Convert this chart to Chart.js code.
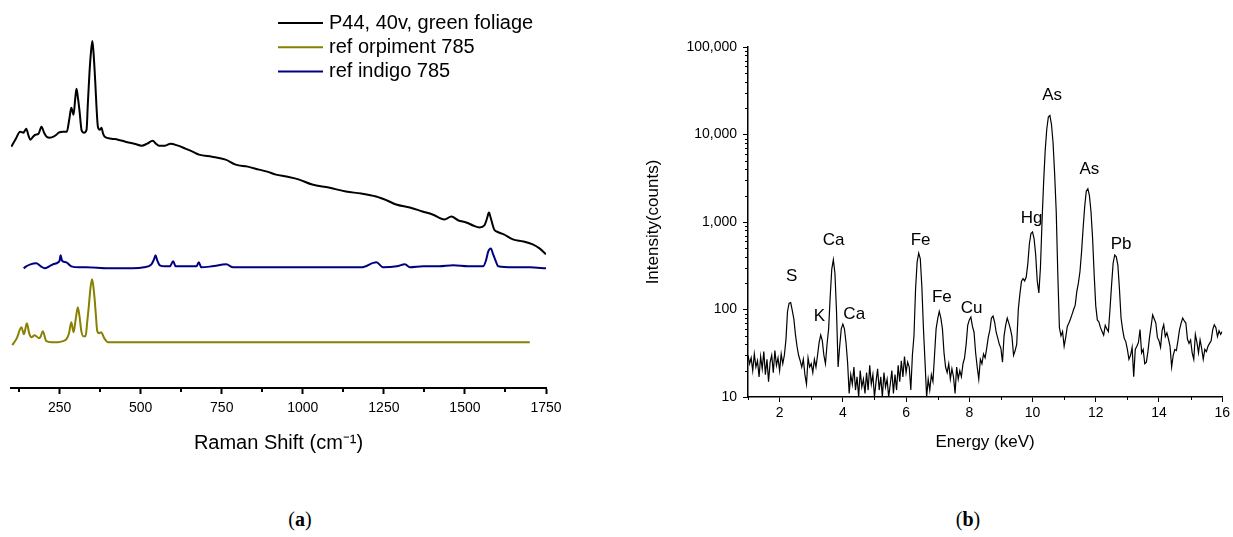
<!DOCTYPE html>
<html>
<head>
<meta charset="utf-8">
<script src="https://cdn.jsdelivr.net/npm/chart.js@4.4.0/dist/chart.umd.min.js"></script>
<style>
  html, body { margin: 0; padding: 0; background: #fff; }
  #wrap { position: relative; width: 1233px; height: 537px; overflow: hidden; }
  #ramanChart { position: absolute; left: 0; top: 0; }
  #xrfChart { position: absolute; left: 620px; top: 0; }
  .cap { position: absolute; width: 60px; text-align: center; top: 508px;
         font-family: 'Liberation Serif', 'DejaVu Serif', serif; font-size: 20px; color: #000; }
</style>
</head>
<body>
<div id="wrap">
  <canvas id="ramanChart" width="600" height="480"></canvas>
  <canvas id="xrfChart" width="613" height="480"></canvas>
  <div class="cap" style="left: 270px">(<b>a</b>)</div>
  <div class="cap" style="left: 938px">(<b>b</b>)</div>
</div>
<script>
// (a) Raman spectra, intensity in arbitrary units (stacked offsets)
const sampleShift = [101,115,128,138,147,154,160,168,175,185,
  194,202,210,220,231,240,247,260,272,280,
  286,293,298,302,306,311,318,325,333,337,
  342,347,351,355,360,364,368,374,379,384,
  389,410,430,453,480,503,520,537,547,556,
  575,592,615,638,660,680,720,762,793,830,
  865,890,917,950,989,1029,1080,1133,1180,1226,
  1260,1288,1330,1369,1400,1437,1458,1480,1504,1525,
  1545,1560,1568,1574,1580,1590,1597,1620,1648,1680,
  1709,1730,1750];
const sampleIntensity = [242,250,257,256,260,253,249,252,254,255,
  262,256,252,251,252,254,256,257,257,270,
  281,274,290,300,292,279,258,256,259,285,
  316,338,348,334,306,280,262,259,261,255,
  252,250,249,247,245,243,245,248,245,243,
  243,245,243,240,237,234,232,229,224,222,
  219,217,214,212,209,204,201,197,195,192,
  188,184,181,177,174,169,172,168,166,163,
  161,163,170,176,170,159,157,154,149,147,
  144,140,134];

const orpimentShift = [104,118,132,140,149,156,163,173,186,192,
  198,209,225,245,260,271,279,286,293,300,
  306,312,317,323,330,335,340,345,350,354,
  358,362,366,372,378,386,392,399,450,600,
  800,1000,1200,1400,1600,1700];
const orpimentIntensity = [43,50,61,54,65,55,51,53,50,52,
  57,47,46,46,47,49,55,66,56,70,
  81,70,57,52,52,66,82,100,109,102,
  89,72,57,55,56,51,48,46,46,46,
  46,46,46,46,46,46];

const indigoShift = [139,147,160,178,192,204,218,229,245,250,
  253,257,260,271,286,310,332,400,475,510,
  533,541,546,551,559,575,590,600,608,640,
  672,679,687,720,764,785,850,920,991,1100,
  1180,1227,1248,1290,1315,1330,1371,1420,1464,1510,
  1556,1565,1572,1580,1587,1593,1603,1649,1700,1750];
const indigoIntensity = [120,122,124,125,122,120,122,124,126,128,
  133,128,127,126,122,121,121,120,120,121,
  124,129,133,128,123,122,122,127,122,122,
  122,126,121,122,124,121,121,121,121,121,
  121,126,121,122,124,121,122,122,123,122,
  122,128,137,140,134,129,122,121,121,120];

const ramanTicks = [250, 500, 750, 1000, 1250, 1500, 1750];
const ramanMinorTicks = [125, 375, 625, 875, 1125, 1375, 1625];

// (b) XRF spectrum
const edxEnergy = [
  1,1.05,1.1,1.15,1.2,1.25,1.3,1.35,1.4,1.45,1.5,1.55,1.6,1.65,1.7,1.75,1.8,1.85,1.9,1.95,
  2,2.05,2.1,2.15,2.2,2.25,2.3,2.35,2.4,2.45,2.5,2.55,2.6,2.65,2.7,2.75,2.8,2.85,2.9,2.95,
  3,3.05,3.1,3.15,3.2,3.25,3.3,3.35,3.4,3.45,3.5,3.55,3.6,3.65,3.7,3.75,3.8,3.85,3.9,3.95,
  4,4.05,4.1,4.15,4.2,4.25,4.3,4.35,4.4,4.45,4.5,4.55,4.6,4.65,4.7,4.75,4.8,4.85,4.9,4.95,
  5,5.05,5.1,5.15,5.2,5.25,5.3,5.35,5.4,5.45,5.5,5.55,5.6,5.65,5.7,5.75,5.8,5.85,5.9,5.95,
  6,6.05,6.1,6.15,6.2,6.25,6.3,6.35,6.4,6.45,6.5,6.55,6.6,6.65,6.7,6.75,6.8,6.85,6.9,6.95,
  7,7.05,7.1,7.15,7.2,7.25,7.3,7.35,7.4,7.45,7.5,7.55,7.6,7.65,7.7,7.75,7.8,7.85,7.9,7.95,
  8,8.05,8.1,8.15,8.2,8.25,8.3,8.35,8.4,8.45,8.5,8.55,8.6,8.65,8.7,8.75,8.8,8.85,8.9,8.95,
  9,9.05,9.1,9.15,9.2,9.25,9.3,9.35,9.4,9.45,9.5,9.55,9.6,9.65,9.7,9.75,9.8,9.85,9.9,9.95,
  10,10.05,10.1,10.15,10.2,10.25,10.3,10.35,10.4,10.45,10.5,10.55,10.6,10.65,10.7,10.75,10.8,10.85,10.9,10.95,
  11,11.05,11.1,11.15,11.2,11.25,11.3,11.35,11.4,11.45,11.5,11.55,11.6,11.65,11.7,11.75,11.8,11.85,11.9,11.95,
  12,12.05,12.1,12.15,12.2,12.25,12.3,12.35,12.4,12.45,12.5,12.55,12.6,12.65,12.7,12.75,12.8,12.85,12.9,12.95,
  13,13.05,13.1,13.15,13.2,13.25,13.3,13.35,13.4,13.45,13.5,13.55,13.6,13.65,13.7,13.75,13.8,13.85,13.9,13.95,
  14,14.05,14.1,14.15,14.2,14.25,14.3,14.35,14.4,14.45,14.5,14.55,14.6,14.65,14.7,14.75,14.8,14.85,14.9,14.95,
  15,15.05,15.1,15.15,15.2,15.25,15.3,15.35,15.4,15.45,15.5,15.55,15.6,15.65,15.7,15.75,15.8,15.85,15.9,15.95,
  16];
const edxCounts = [
  30,24,28,20,31,22,26,17,29,21,33,18,27,15,25,30,19,34,23,28,
  20,31,24,30,45,95,118,120,98,78,52,38,30,26,22,27,18,14,28,22,
  24,19,27,22,30,42,51,44,30,24,40,60,140,290,370,260,95,22,38,60,
  68,60,42,25,11,18,14,22,12,17,10,20,13,16,11,19,12,23,14,18,
  10,15,21,12,17,10,19,13,16,10,14,20,11,18,12,23,15,26,17,29,
  19,25,22,12,30,50,170,350,440,380,180,60,25,10,16,12,18,15,30,60,
  78,95,80,60,32,22,19,24,16,21,17,11,22,16,20,17,24,28,40,66,
  76,82,64,55,32,22,16,27,24,31,28,36,48,58,80,84,72,55,47,40,
  36,25,50,66,80,70,60,49,30,34,40,100,150,210,225,212,235,330,560,740,
  770,640,420,210,155,300,1000,2800,6500,11500,15800,16500,13000,8000,3500,1300,250,62,50,56,
  38,48,64,70,78,88,100,112,160,200,270,450,850,1500,2250,2400,2000,1300,650,250,
  110,76,72,62,56,51,66,60,56,100,190,340,420,400,320,170,80,59,47,43,
  35,27,30,37,17,35,38,42,59,32,35,24,25,33,48,64,87,78,70,48,
  44,37,58,67,49,54,46,38,22,30,35,34,44,59,70,80,74,70,46,41,
  45,32,27,52,42,32,45,36,27,35,33,38,41,44,59,67,62,49,57,52,
  56];

const peakNames = ['S', 'K', 'Ca', 'Ca', 'Fe', 'Fe', 'Cu', 'Hg', 'As', 'As', 'Pb'];
const peakEnergy = [2.38, 3.26, 3.71, 4.36, 6.46, 7.13, 8.07, 9.97, 10.62, 11.8, 12.8];
const peakCounts = [238, 83, 624, 87, 624, 138, 104, 1100, 28100, 3990, 557];

const energyTicks = [2, 4, 6, 8, 10, 12, 14, 16];
const energyMinorTicks = [1, 3, 5, 7, 9, 11, 13, 15];
const countTicks = [10, 100, 1000, 10000, 100000];

const countMinorTicks = [];
for (let d = 10; d < 100000; d *= 10) {
  for (let m = 2; m <= 9; m++) countMinorTicks.push(m * d);
}

const toPoints = (xs, ys) => xs.map((x, i) => ({ x: x, y: ys[i] }));

// 小さい目盛り
const minorTicks = {
  id: 'minorTicks',
  afterDraw(chart, args, opts) {
    const ctx = chart.ctx;
    ctx.save();
    ctx.strokeStyle = '#000';
    ctx.lineWidth = opts.width;
    opts.marks.forEach(m => {
      const scale = chart.scales[m.axis];
      m.values.forEach(v => {
        const p = Math.round(scale.getPixelForValue(v)) + (opts.width % 2 ? 0.5 : 0);
        ctx.beginPath();
        if (m.axis === 'x') {
          ctx.moveTo(p, scale.top);
          ctx.lineTo(p, scale.top + m.length);
        } else {
          ctx.moveTo(scale.right, p);
          ctx.lineTo(scale.right - m.length, p);
        }
        ctx.stroke();
      });
    });
    ctx.restore();
  }
};

// 凡例 (グラフ内)
const insideLegend = {
  id: 'insideLegend',
  afterDraw(chart, args, opts) {
    const ctx = chart.ctx;
    ctx.save();
    ctx.font = opts.font;
    ctx.textBaseline = 'middle';
    chart.data.datasets.forEach((ds, i) => {
      const y = opts.top + i * opts.rowHeight;
      ctx.strokeStyle = ds.borderColor;
      ctx.lineWidth = 2;
      ctx.beginPath();
      ctx.moveTo(opts.left, y);
      ctx.lineTo(opts.left + opts.lineLength, y);
      ctx.stroke();
      ctx.fillStyle = '#000';
      ctx.fillText(ds.label, opts.left + opts.lineLength + opts.gap, y);
    });
    ctx.restore();
  }
};

// ピークのラベル
const peakLabels = {
  id: 'peakLabels',
  afterDatasetsDraw(chart, args, opts) {
    const { ctx, scales: { x, y } } = chart;
    ctx.save();
    ctx.font = opts.font;
    ctx.fillStyle = '#000';
    ctx.textAlign = 'center';
    ctx.textBaseline = 'middle';
    peakNames.forEach((name, i) => {
      ctx.fillText(name, x.getPixelForValue(peakEnergy[i]), y.getPixelForValue(peakCounts[i]));
    });
    ctx.restore();
  }
};

const sans = "'Liberation Sans', Arial, sans-serif";

// ラマンスペクトル
const ramanCtx = document.getElementById('ramanChart').getContext('2d');
const ramanChart = new Chart(ramanCtx, {
  type: 'line',
  data: {
    datasets: [{
      label: 'P44, 40v, green foliage',
      data: toPoints(sampleShift, sampleIntensity),
      borderColor: '#000000',
      borderWidth: 2,
      pointRadius: 0,
      cubicInterpolationMode: 'monotone'
    }, {
      label: 'ref orpiment 785',
      data: toPoints(orpimentShift, orpimentIntensity),
      borderColor: '#878000',
      borderWidth: 2,
      pointRadius: 0,
      cubicInterpolationMode: 'monotone'
    }, {
      label: 'ref indigo 785',
      data: toPoints(indigoShift, indigoIntensity),
      borderColor: '#000080',
      borderWidth: 2,
      pointRadius: 0,
      cubicInterpolationMode: 'monotone'
    }]
  },
  options: {
    responsive: false,
    animation: false,
    layout: { padding: { left: 11, right: 54, top: 29, bottom: 0 } },
    plugins: {
      legend: { display: false },
      tooltip: { enabled: false },
      insideLegend: { left: 278, top: 23, rowHeight: 24.3, lineLength: 45, gap: 6, font: "20px " + sans },
      minorTicks: { width: 2, marks: [{ axis: 'x', values: ramanMinorTicks, length: 4 }] }
    },
    scales: {
      x: {
        type: 'linear',
        min: 100,
        max: 1750,
        afterBuildTicks: s => { s.ticks = ramanTicks.map(v => ({ value: v })); },
        afterFit: s => { s.height = 92; },
        border: { display: true, color: '#000', width: 2 },
        grid: { drawOnChartArea: false, drawTicks: true, tickLength: 6, tickWidth: 2, tickColor: '#000' },
        ticks: { autoSkip: false, maxRotation: 0, padding: 6, color: '#000', font: { family: sans, size: 14 },
                 callback: v => String(v) },
        title: { display: true, text: 'Raman Shift (cm⁻¹)', color: '#000', padding: { top: 0, bottom: 25 }, font: { family: sans, size: 20 } }
      },
      y: { display: false, min: 0, max: 360 }
    }
  },
  plugins: [minorTicks, insideLegend]
});

// XRF スペクトル
const xrfCtx = document.getElementById('xrfChart').getContext('2d');
const xrfChart = new Chart(xrfCtx, {
  type: 'line',
  data: {
    datasets: [{
      label: 'XRF',
      data: toPoints(edxEnergy, edxCounts),
      borderColor: '#000000',
      borderWidth: 1.2,
      pointRadius: 0,
      tension: 0
    }]
  },
  options: {
    responsive: false,
    animation: false,
    layout: { padding: { left: 0, right: 8, top: 47, bottom: 0 } },
    plugins: {
      legend: { display: false },
      tooltip: { enabled: false },
      peakLabels: { font: "17px " + sans },
      minorTicks: {
        width: 1,
        marks: [
          { axis: 'x', values: energyMinorTicks, length: 3 },
          { axis: 'y', values: countMinorTicks, length: 3 }
        ]
      }
    },
    scales: {
      x: {
        type: 'linear',
        min: 1,
        max: 16,
        afterBuildTicks: s => { s.ticks = energyTicks.map(v => ({ value: v })); },
        afterFit: s => { s.height = 83; },
        border: { display: true, color: '#000', width: 1.5 },
        grid: { drawOnChartArea: false, drawTicks: true, tickLength: 5, tickWidth: 1, tickColor: '#000' },
        ticks: { autoSkip: false, maxRotation: 0, padding: 3, color: '#000', font: { family: sans, size: 14 } },
        title: { display: true, text: 'Energy (keV)', color: '#000', padding: { top: 0, bottom: 27 }, font: { family: sans, size: 17 } }
      },
      y: {
        type: 'logarithmic',
        min: 10,
        max: 100000,
        afterBuildTicks: s => { s.ticks = countTicks.map(v => ({ value: v })); },
        afterFit: s => { s.width = 128; },
        border: { display: true, color: '#000', width: 1.5 },
        grid: { drawOnChartArea: false, drawTicks: true, tickLength: 5, tickWidth: 1, tickColor: '#000' },
        ticks: {
          autoSkip: false,
          padding: 6,
          color: '#000',
          font: { family: sans, size: 14 },
          callback: v => Number(v).toLocaleString('en-US')
        },
        title: { display: true, text: 'Intensity(counts)', color: '#000', padding: { top: 23, bottom: 0 }, font: { family: sans, size: 17 } }
      }
    }
  },
  plugins: [minorTicks, peakLabels]
});
</script>
</body>
</html>
